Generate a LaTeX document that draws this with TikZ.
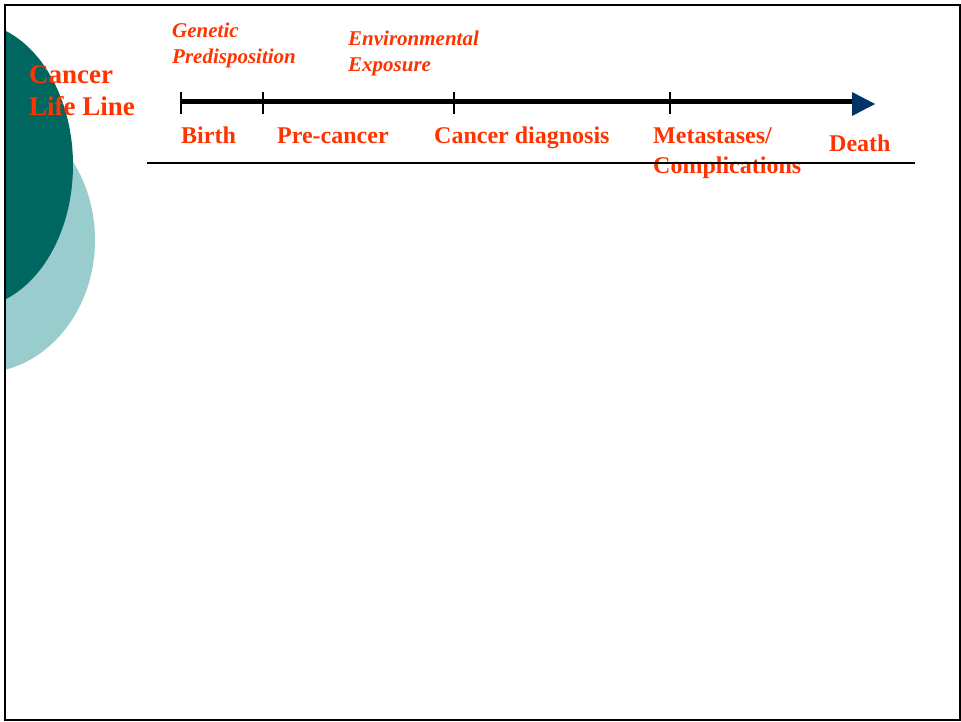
\documentclass[tikz,border=0pt]{standalone}
\usepackage{fontspec}
\setmainfont{Liberation Serif}
\usetikzlibrary{positioning}
\definecolor{lifered}{HTML}{FF3300}
\definecolor{darkteal}{HTML}{006660}
\definecolor{lightteal}{HTML}{99CCCC}
\definecolor{arrownavy}{HTML}{003366}
\tikzset{
  stage/.style={text=lifered,font=\bfseries\fontsize{24}{30}\selectfont,inner sep=0pt,anchor=base west,align=left},
  factor/.style={text=lifered,font=\bfseries\itshape\fontsize{21}{26}\selectfont,inner sep=0pt,anchor=base west,align=left},
  tick/.style={line width=2pt},
}

\begin{document}
\begin{tikzpicture}[x=1pt,y=-1pt]
        \useasboundingbox (0,0) rectangle (961,721);
        % ellipses on the left edge
        \begin{scope}
        \clip (5,5) rectangle (959,719);
        \fill[lightteal] (-20,240) ellipse [x radius=115,y radius=133];
        \fill[darkteal]  (-30,165) ellipse [x radius=103,y radius=143];
        \end{scope}
        \draw[line width=2pt] (4.5,4.5) rectangle (959.5,719.5);

        % base anchor sits on the last line
        \node[stage,font=\bfseries\fontsize{27}{32}\selectfont] (title) at (29,115) {Cancer\\Life Line};

        % time line
        \coordinate (birth)  at (181,101);
        \coordinate (pre)    at (263,101);
        \coordinate (diag)   at (454,101);
        \coordinate (meta)   at (670,101);
        \coordinate (finish) at (853,101);
        \draw[line width=5pt] (birth) -- (finish);
        \fill[arrownavy] (finish) ++(-1,-9) -- ++(23,12) -- ++(-23,12) -- cycle;
        \foreach \t in {birth,pre,diag,meta}
            \draw[tick] (\t) ++(0,-9) -- ++(0,22);

        \node[stage] (lbirth) at (181,143) {Birth};
        \node[stage] (lpre)   at (277,143) {Pre-cancer};
        \node[stage] (ldiag)  at (434,143) {Cancer diagnosis};
        \node[stage] (lmeta)  at (653,173) {Metastases/\\Complications};
        \node[stage] (ldeath) at (829,151) {Death};

        \node[factor] (genetic) at (172,63) {Genetic\\Predisposition};
        \node[factor] (environ) at (348,71) {Environmental\\Exposure};

        \coordinate (ruleA) at (147,163);
        \coordinate (ruleB) at (915,163);
        \draw[line width=1.2pt] (ruleA) -- (ruleB);
\end{tikzpicture}
\end{document}
